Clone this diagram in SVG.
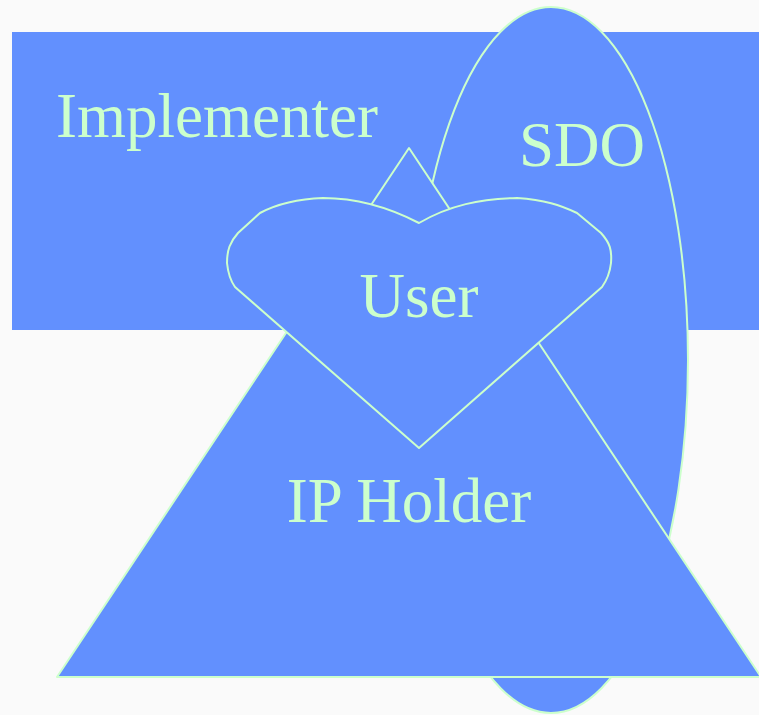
<svg xmlns="http://www.w3.org/2000/svg" width="759" height="715" viewBox="0 0 759 715">
  <style>
    .shape { fill: #6290FE; stroke: #CCFFCC; stroke-width: 2; stroke-linejoin: round; }
    .label { fill: #CCFFCC; font-family: "Liberation Serif", "Times New Roman", serif; font-size: 63px; text-anchor: middle; }
  </style>
  <rect width="759" height="715" fill="#FAFAFA"/>
  <g id="implementer">
    <rect x="12" y="32" width="760" height="298" fill="#6290FE"/>
    <text class="label" x="217" y="137">Implementer</text>
  </g>
  <g id="sdo">
    <ellipse class="shape" cx="551" cy="360" rx="137" ry="353"/>
    <text class="label" x="582" y="166">SDO</text>
  </g>
  <g id="ip-holder">
    <polygon class="shape" points="409,148 761,677 57,677"/>
    <text class="label" x="409" y="522">IP Holder</text>
  </g>
  <g id="user">
    <path class="shape" d="M419,223 C390,208 360,198 323,198 C295,199 275,205 260,213 L238,233 C230,242 227,250 227,263 C228,273 230,280 235,287 L419,448 L602,287 C607,280 610,272 611,263 C612,250 610,243 601,233 L577,213 C560,205 545,200 517,198 C480,199 450,205 419,223 Z"/>
    <text class="label" x="419" y="317">User</text>
  </g>
  <g id="connectors"/>
</svg>
